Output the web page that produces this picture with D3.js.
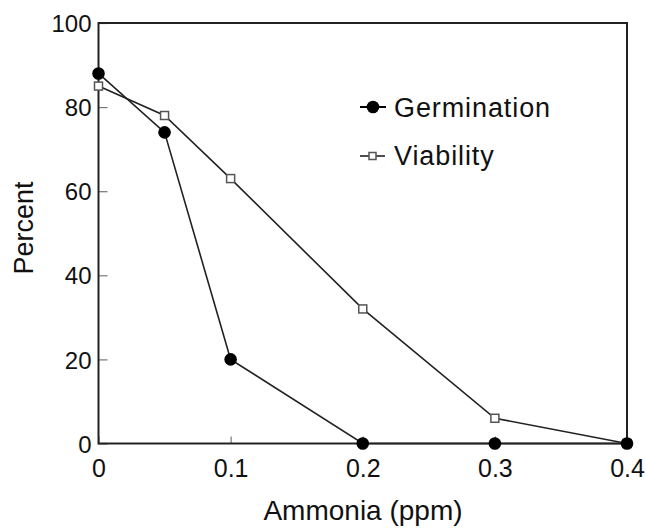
<!DOCTYPE html>
<html>
<head>
<meta charset="utf-8">
<script src="https://cdn.jsdelivr.net/npm/d3@7"></script>
<style>
  body { margin: 0; background: #fff; }
  text { font-family: "Liberation Sans", Arial, sans-serif; fill: #111; }
</style>
</head>
<body>
<div id="chart"></div>
<script>
// data
const ammonia = [0, 0.05, 0.1, 0.2, 0.3, 0.4]
const germination = [88, 74, 20, 0, 0, 0]
const viability = [85, 78, 63, 32, 6, 0]
const xTicks = [0, 0.1, 0.2, 0.3, 0.4]
const xTickLabels = ["0", "0.1", "0.2", "0.3", "0.4"]
const yTicks = [0, 20, 40, 60, 80, 100]

let margin = {top: 23, right: 19, bottom: 85.5, left: 98.5},
    width = 646 - margin.left - margin.right,
    height = 529 - margin.top - margin.bottom

let svg = d3.select("#chart")
    .append("svg")
    .attr("width", 646)
    .attr("height", 529)

let g = svg.append("g")
    .attr("transform", `translate(${margin.left},${margin.top})`)

let x = d3.scaleLinear().domain([0, 0.4]).range([0, width])
let y = d3.scaleLinear().domain([0, 100]).range([height, 0])

// inward ticks
let yAxis = g.append("g")
    .call(d3.axisLeft(y).tickValues(yTicks).tickSize(-9).tickPadding(7))
yAxis.select(".domain").remove()
yAxis.selectAll("line").attr("stroke", "#777").attr("stroke-width", 1.2)
yAxis.selectAll("text").style("font-size", "24px").attr("dy", "0.36em")

let xAxis = g.append("g")
    .attr("transform", `translate(0,${height})`)
    .call(d3.axisBottom(x).tickValues(xTicks)
        .tickFormat((d, i) => xTickLabels[i]).tickSize(-7).tickPadding(15))
xAxis.select(".domain").remove()
xAxis.selectAll("line").attr("stroke", "#777").attr("stroke-width", 1.2)
xAxis.selectAll("text").style("font-size", "25px").attr("dy", "0.72em")

// frame
g.append("rect")
    .attr("width", width)
    .attr("height", height)
    .attr("fill", "none")
    .attr("stroke", "#222")
    .attr("stroke-width", 2)

let line = d3.line().x((d, i) => x(ammonia[i])).y(d => y(d))

g.append("path")
    .datum(viability)
    .attr("d", line)
    .attr("fill", "none")
    .attr("stroke", "#222")
    .attr("stroke-width", 1.6)

g.append("path")
    .datum(germination)
    .attr("d", line)
    .attr("fill", "none")
    .attr("stroke", "#222")
    .attr("stroke-width", 1.6)

g.selectAll(".sq")
    .data(viability)
    .enter()
    .append("rect")
    .attr("class", "sq")
    .attr("x", (d, i) => x(ammonia[i]) - 4)
    .attr("y", d => y(d) - 4)
    .attr("width", 8)
    .attr("height", 8)
    .attr("fill", "#fff")
    .attr("stroke", "#555")
    .attr("stroke-width", 1.5)

g.selectAll(".dot")
    .data(germination)
    .enter()
    .append("circle")
    .attr("class", "dot")
    .attr("cx", (d, i) => x(ammonia[i]))
    .attr("cy", d => y(d))
    .attr("r", 6.3)
    .attr("fill", "#000")

// legend
let legend = svg.append("g")
legend.append("line")
    .attr("x1", 360).attr("x2", 386).attr("y1", 107).attr("y2", 107)
    .attr("stroke", "#000").attr("stroke-width", 2)
legend.append("circle")
    .attr("cx", 373).attr("cy", 107).attr("r", 6.3).attr("fill", "#000")
legend.append("text")
    .attr("x", 394).attr("y", 117)
    .style("font-size", "27px").style("letter-spacing", "0.9px")
    .text("Germination")

legend.append("line")
    .attr("x1", 360).attr("x2", 385).attr("y1", 156).attr("y2", 156)
    .attr("stroke", "#222").attr("stroke-width", 1.6)
legend.append("rect")
    .attr("x", 369).attr("y", 152.5).attr("width", 7).attr("height", 7)
    .attr("fill", "#fff").attr("stroke", "#555").attr("stroke-width", 1.5)
legend.append("text")
    .attr("x", 394).attr("y", 165)
    .style("font-size", "27px").style("letter-spacing", "0.9px")
    .text("Viability")

// axis titles
svg.append("text")
    .attr("transform", "translate(33,228) rotate(-90)")
    .attr("text-anchor", "middle")
    .style("font-size", "27px")
    .text("Percent")

svg.append("text")
    .attr("x", 363)
    .attr("y", 520)
    .attr("text-anchor", "middle")
    .style("font-size", "28px")
    .text("Ammonia (ppm)")
</script>
</body>
</html>
